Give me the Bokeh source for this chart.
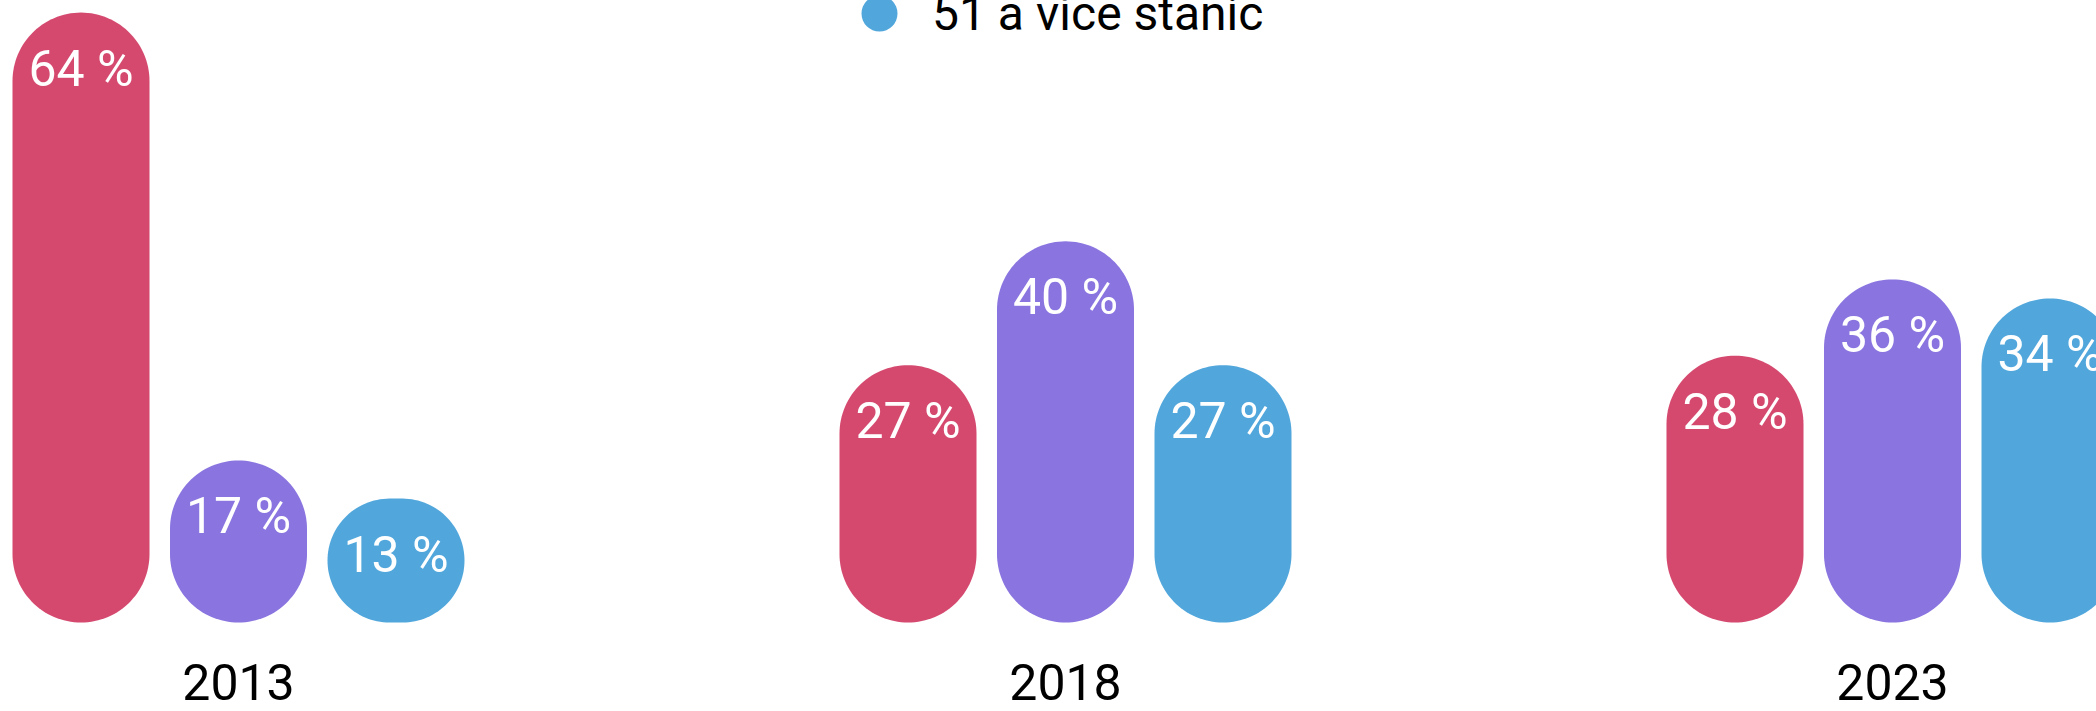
import numpy as np
from bokeh.plotting import figure
from bokeh.models import ColumnDataSource, Range1d, FixedTicker, Legend, LegendItem
from bokeh.embed import file_html
from bokeh.resources import INLINE
from bokeh.core.properties import value

# ---- data ----
years = ["2013", "2018", "2023"]
series_colors = ["#D5496F", "#8A74E0", "#51A7DC"]
red_values = [64, 27, 28]
purple_values = [17, 40, 36]
blue_values = [13, 27, 34]
legend_label = "51 a více stanic"

# ---- layout constants (pixels) ----
FONT = "Roboto"
W, H = 2096, 711
GROUP_PX = 827.0          # pixels between group centres
FIRST_GROUP_PX = 238.0    # pixel of first group centre
PX_PER_PCT = 9.53
ZERO_FROM_BOTTOM = 89.0
BAR_PX = 137.0
OFFSET_PX = 157.5

x_start = -FIRST_GROUP_PX / GROUP_PX
x_end = x_start + W / GROUP_PX
y_start = -ZERO_FROM_BOTTOM / PX_PER_PCT
y_end = y_start + H / PX_PER_PCT

p = figure(width=W, height=H, output_backend="svg", toolbar_location=None,
           x_range=Range1d(x_start, x_end), y_range=Range1d(y_start, y_end),
           min_border=0)
p.outline_line_color = None
p.xgrid.grid_line_color = None
p.ygrid.grid_line_color = None
p.yaxis.visible = False
p.background_fill_color = "white"
p.border_fill_color = "white"


def pill_outline(xc, v, n=32):
    """Rounded-end bar from 0 to v (data), built in pixel space then mapped to data."""
    hw = BAR_PX / 2.0
    h = v * PX_PER_PCT
    r = min(hw, h / 2.0)
    corners = [((hw - r), h - r, 0.0), (-(hw - r), h - r, 0.5 * np.pi),
               (-(hw - r), r, np.pi), ((hw - r), r, 1.5 * np.pi)]
    px, py = [], []
    for cx, cy, a0 in corners:
        a = np.linspace(a0, a0 + 0.5 * np.pi, n)
        px.append(cx + r * np.cos(a))
        py.append(cy + r * np.sin(a))
    px = np.concatenate(px)
    py = np.concatenate(py)
    return list(xc + px / GROUP_PX), list(py / PX_PER_PCT)


series = [red_values, purple_values, blue_values]
for si, (vals, color) in enumerate(zip(series, series_colors)):
    off = (si - 1) * OFFSET_PX / GROUP_PX
    xs = [i + off for i in range(len(years))]
    outlines = [pill_outline(x, v) for x, v in zip(xs, vals)]
    psrc = ColumnDataSource(dict(xs=[o[0] for o in outlines], ys=[o[1] for o in outlines]))
    p.patches(xs="xs", ys="ys", source=psrc, fill_color=color, line_color=None)
    src = ColumnDataSource(dict(x=xs, top=vals, label=[f"{v} %" for v in vals]))
    p.text(x="x", y="top", text="label", source=src, text_color="white",
           text_align="center", text_baseline="top", y_offset=27,
           text_font=value(FONT), text_font_size="50px")

# legend (only its last item is visible in the reference, cut at the top edge)
legend_src = ColumnDataSource(dict(x=np.array([np.nan]), y=np.array([np.nan])))
lr = p.scatter(x="x", y="y", source=legend_src, marker="circle",
               fill_color=series_colors[2], line_color=None)
legend = Legend(items=[LegendItem(label=legend_label, renderers=[lr])],
                location=(834, H - 58), orientation="vertical",
                glyph_width=90, glyph_height=90, label_standoff=8,
                padding=0, margin=0, spacing=0,
                border_line_color=None, background_fill_alpha=0,
                label_text_font=FONT, label_text_font_size="48px",
                label_text_color="black")
p.add_layout(legend)

ax = p.xaxis[0]
ax.fixed_location = 0
ax.ticker = FixedTicker(ticks=list(range(len(years))))
ax.major_label_overrides = {i: y for i, y in enumerate(years)}
ax.axis_line_color = None
ax.major_tick_line_color = None
ax.minor_tick_line_color = None
ax.major_tick_out = 0
ax.major_tick_in = 0
ax.major_label_standoff = 41
ax.major_label_text_font = FONT
ax.major_label_text_font_size = "50px"
ax.major_label_text_color = "black"

open("out.html", "w").write(file_html(p, INLINE))
